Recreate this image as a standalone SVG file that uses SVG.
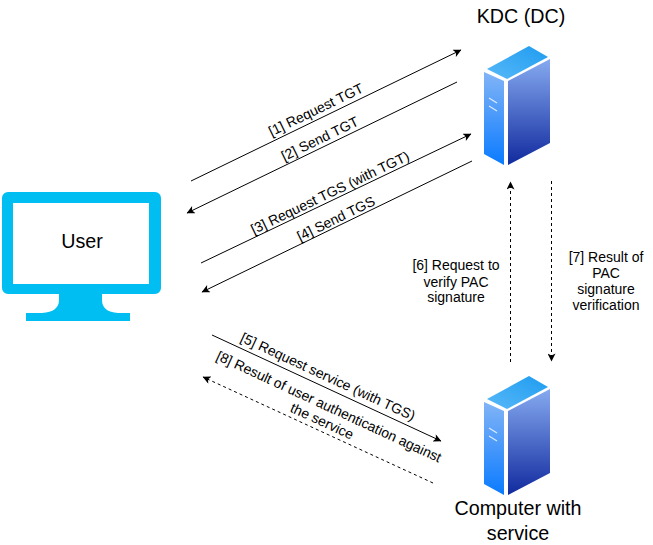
<svg xmlns="http://www.w3.org/2000/svg" xmlns:xlink="http://www.w3.org/1999/xlink" width="653" height="545" viewBox="0 0 653 545">
<style>
text{font-family:"Liberation Sans",Arial,sans-serif;fill:#000;text-anchor:middle}
.l{font-size:14px}
.t{font-size:19.7px}
.c{fill:none;stroke:#000;stroke-width:1}
.d{stroke-dasharray:3 3}
</style>
<defs>
<linearGradient id="gl" x1="0" y1="0" x2="0" y2="1"><stop offset="0" stop-color="#82b4f6"/><stop offset="1" stop-color="#0a7bff"/></linearGradient>
<linearGradient id="gr" x1="0" y1="0" x2="0" y2="1"><stop offset="0" stop-color="#86aaf0"/><stop offset="1" stop-color="#112a9e"/></linearGradient>
<linearGradient id="gt" x1="0" y1="1" x2="1" y2="0"><stop offset="0" stop-color="#58b8f8"/><stop offset="1" stop-color="#1e9cf0"/></linearGradient>
<marker id="a" viewBox="0 0 10 10" refX="9.5" refY="5" markerWidth="10" markerHeight="8" markerUnits="userSpaceOnUse" orient="auto"><path d="M0 0L10 5L0 10L2.5 5Z" fill="#000"/></marker>
<g id="server">
<path d="M529 46L548 57L507 79L487 69Z" fill="url(#gt)"/>
<path d="M484 72L504 81V165L484 154Z" fill="url(#gl)"/>
<path d="M508 81L550 59V143L508 165Z" fill="url(#gr)"/>
<path d="M489 98L497 103M489 106L497 111" stroke="#dcebff" stroke-width="1.2" fill="none"/>
</g>
</defs>
<g id="connectors">
<path class="c" marker-end="url(#a)" d="M191 181L461 50"/>
<path class="c" marker-end="url(#a)" d="M457 82L187 213"/>
<path class="c" marker-end="url(#a)" d="M201 263L471 134"/>
<path class="c" marker-end="url(#a)" d="M472 161L202 292"/>
<path class="c" marker-end="url(#a)" d="M212 335L441 441"/>
<path class="c d" marker-end="url(#a)" d="M433 483L203 377"/>
<path class="c d" marker-end="url(#a)" d="M510.5 362V182"/>
<path class="c d" marker-end="url(#a)" d="M551.5 181V361"/>
</g>
<g id="user">
<path fill="#00bef2" fill-rule="evenodd" d="M8 192H155a6 6 0 0 1 6 6V288a6 6 0 0 1-6 6H102V300Q102 312 118 313H130V321H26V313H42Q59 312 59 300V294H8a6 6 0 0 1-6-6V198a6 6 0 0 1 6-6ZM13 203V284H149V203Z"/>
<text class="t" x="82" y="248">User</text>
</g>
<g id="kdc">
<use href="#server"/>
<text class="t" x="521" y="23">KDC (DC)</text>
</g>
<g id="computer">
<use href="#server" y="330"/>
<text class="t" x="518" y="515">Computer with</text>
<text class="t" x="518" y="540">service</text>
</g>
<g id="labels">
<text class="l" transform="translate(318 114) rotate(-25.9)">[1] Request TGT</text>
<text class="l" transform="translate(322 143) rotate(-25.9)">[2] Send TGT</text>
<text class="l" transform="translate(332 197) rotate(-25.6)">[3] Request TGS (with TGT)</text>
<text class="l" transform="translate(338 223) rotate(-25.9)">[4] Send TGS</text>
<text class="l" transform="translate(326 381) rotate(24.8)">[5] Request service (with TGS)</text>
<text class="l" transform="translate(327 411) rotate(24.8)">[8] Result of user authentication against</text>
<text class="l" transform="translate(320 425.5) rotate(24.8)">the service</text>
<text class="l" x="456" y="270">[6] Request to</text>
<text class="l" x="456" y="286.5">verify PAC</text>
<text class="l" x="456" y="302">signature</text>
<text class="l" x="606" y="262">[7] Result of</text>
<text class="l" x="606" y="278">PAC</text>
<text class="l" x="606" y="294">signature</text>
<text class="l" x="606" y="310">verification</text>
</g>
</svg>
